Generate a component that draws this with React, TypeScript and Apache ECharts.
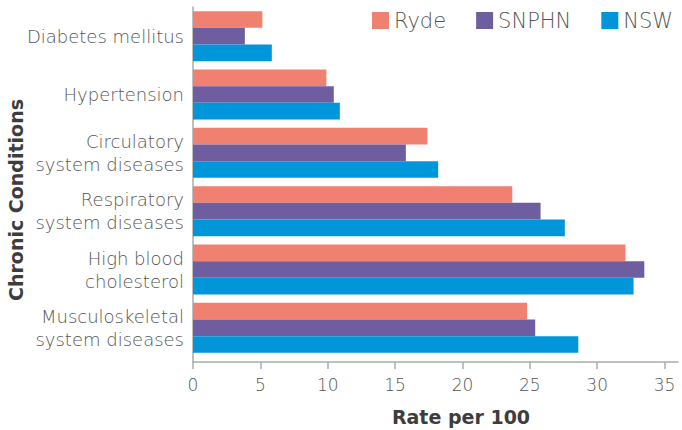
import React, { useEffect, useRef } from "react";
import * as echarts from "echarts";

const categories = [
  "Diabetes mellitus",
  "Hypertension",
  "Circulatory\nsystem diseases",
  "Respiratory\nsystem diseases",
  "High blood\ncholesterol",
  "Musculoskeletal\nsystem diseases",
];
const ryde = [5.15, 9.9, 17.4, 23.7, 32.1, 24.8];
const snphn = [3.85, 10.45, 15.8, 25.8, 33.5, 25.4];
const nsw = [5.85, 10.9, 18.2, 27.6, 32.7, 28.6];
const seriesNames = ["Ryde", "SNPHN", "NSW"];
const colors = ["#F08070", "#6E5EA0", "#0096D9"];

const FONT = "DejaVu Sans";
const AXIS_COLOR = "#ABABAB";
const TEXT_COLOR = "#555555";

export default function App() {
  const ref = useRef<HTMLDivElement>(null);
  useEffect(() => {
    if (!ref.current) return;
    const chart = echarts.init(ref.current, null, { renderer: "svg" });
    const data = [ryde, snphn, nsw];
    chart.setOption({
      animation: false,
      color: colors,
      legend: {
        left: 372,
        top: 10,
        padding: 0,
        icon: "rect",
        itemWidth: 17,
        itemHeight: 17,
        itemGap: 30,
        textStyle: { fontFamily: FONT, fontSize: 21, color: TEXT_COLOR, fontWeight: 300 },
        data: seriesNames,
      },
      grid: {
        left: 193,
        top: 7,
        width: 485,
        height: 350,
        containLabel: false,
        outerBoundsMode: "none",
      },
      xAxis: {
        type: "value",
        min: 0,
        max: 36,
        interval: 5,
        offset: 5,
        splitLine: { show: false },
        axisLine: { show: true, lineStyle: { color: AXIS_COLOR, width: 1.5 } },
        axisTick: { show: true, length: 7, lineStyle: { color: AXIS_COLOR, width: 1.5 } },
        axisLabel: {
          margin: 14,
          fontFamily: FONT,
          fontSize: 17,
          fontWeight: 300,
          color: TEXT_COLOR,
          showMaxLabel: false,
        },
        name: "Rate per 100",
        nameLocation: "middle",
        nameGap: 45,
        nameMoveOverlap: false,
        nameTextStyle: {
          fontFamily: FONT,
          fontSize: 19,
          fontWeight: "bold",
          color: "#3d3d3d",
          padding: [0, 0, 0, 51],
        },
      },
      yAxis: {
        type: "category",
        data: categories,
        inverse: true,
        axisLine: { show: true, lineStyle: { color: AXIS_COLOR, width: 1.5 } },
        axisTick: { show: false },
        axisLabel: {
          margin: 9,
          fontFamily: FONT,
          fontSize: 18,
          fontWeight: 300,
          color: TEXT_COLOR,
          lineHeight: 23,
        },
        name: "Chronic Conditions",
        nameLocation: "middle",
        nameGap: 168,
        nameMoveOverlap: false,
        nameTextStyle: {
          fontFamily: FONT,
          fontSize: 19,
          fontWeight: "bold",
          color: "#3d3d3d",
          padding: [0, 36, 0, 0],
        },
      },
      graphic: [
        {
          type: "line",
          shape: { x1: 193, y1: 357, x2: 193, y2: 362 },
          style: { stroke: AXIS_COLOR, lineWidth: 1.5 },
        },
      ],
      series: seriesNames.map((name, i) => ({
        name,
        type: "bar",
        data: data[i],
        barGap: "0%",
        barCategoryGap: "14.4%",
        itemStyle: { color: colors[i] },
      })),
    });
    return () => chart.dispose();
  }, []);
  return (
    <div
      ref={ref}
      style={{ position: "absolute", left: 0, top: 0, width: 682, height: 430 }}
    />
  );
}
